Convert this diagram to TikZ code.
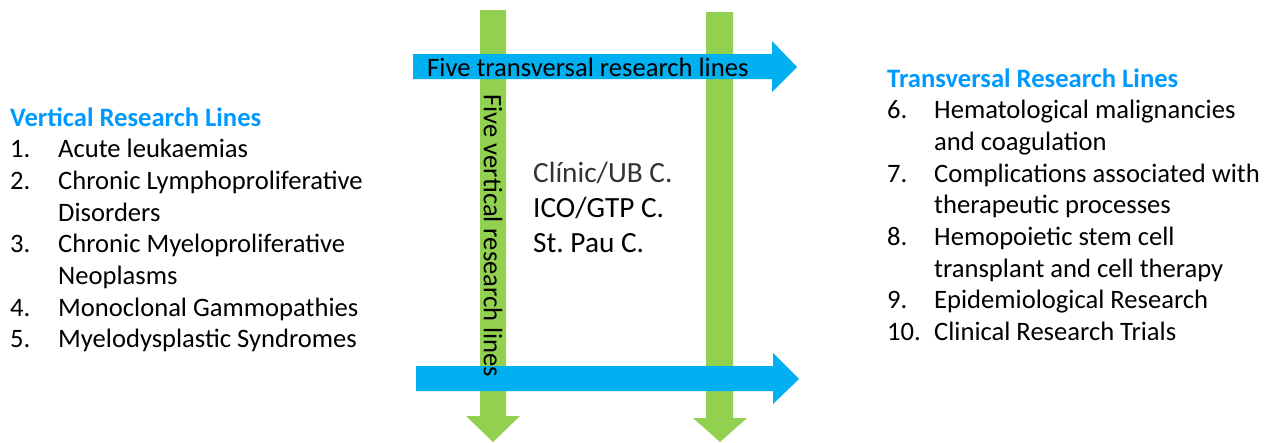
\documentclass[tikz,border=0pt]{standalone}
\usepackage{fontspec}
\setmainfont{Carlito}
\usepackage{tikz}
\frenchspacing
\definecolor{vgreen}{RGB}{146,208,80}
\definecolor{tblue}{RGB}{0,176,240}
\definecolor{headblue}{RGB}{0,153,255}
\tikzstyle{vbar}=[fill=vgreen]
\tikzstyle{tbar}=[fill=tblue]
\tikzstyle{listtext}=[inner sep=0,anchor=base west,font=\fontsize{26.6}{31.7}\selectfont]
\tikzstyle{centretext}=[inner sep=0,anchor=base west,align=left,font=\fontsize{29.3}{35}\selectfont]
\tikzstyle{bartext}=[inner sep=0,font=\fontsize{26.6}{30}\selectfont]

\begin{document}
\begin{tikzpicture}[x=1pt,y=-1pt]
\useasboundingbox (0,0) rectangle (1275,442);
% vertical lines (green)
\fill[vbar] (480,10)--(506,10)--(506,416)--(520,416)--(493,442)--(466,416)--(480,416)--cycle;
\fill[vbar] (706,12)--(733,12)--(733,418)--(747,418)--(720,442)--(693,418)--(706,418)--cycle;
% transversal lines (blue)
\fill[tbar] (413,54)--(772,54)--(772,41)--(797,67)--(772,92)--(772,79)--(413,79)--cycle;
\fill[tbar] (416,366)--(773,366)--(773,353)--(799,379)--(773,404)--(773,391)--(416,391)--cycle;

\node[bartext,anchor=base west] (ttext) at (427,76) {Five transversal research lines};
\node[bartext,rotate=-90] (vtext) at (493,236) {Five vertical research lines};

% last line sits on the given point
\node[centretext] (centres) at (533,252) {\color{black!80}Clínic/UB C.\\ICO/GTP C.\\St. Pau C.};

\node[listtext] (vlist) at (10,126) {%
\begin{tabular}[t]{@{}p{48pt}@{}l@{}}
\multicolumn{2}{@{}l@{}}{\color{headblue}\bfseries Vertical Research Lines}\\
1. & Acute leukaemias\\
2. & Chronic Lymphoproliferative\\
   & Disorders\\
3. & Chronic Myeloproliferative\\
   & Neoplasms\\
4. & Monoclonal Gammopathies\\
5. & Myelodysplastic Syndromes
\end{tabular}};

\node[listtext] (tlist) at (887,87) {%
\begin{tabular}[t]{@{}p{47pt}@{}l@{}}
\multicolumn{2}{@{}l@{}}{\color{headblue}\bfseries Transversal Research Lines}\\
6.  & Hematological malignancies\\
    & and coagulation\\
7.  & Complications associated with\\
    & therapeutic processes\\
8.  & Hemopoietic stem cell\\
    & transplant and cell therapy\\
9.  & Epidemiological Research\\
10. & Clinical Research Trials
\end{tabular}};
\end{tikzpicture}
\end{document}
